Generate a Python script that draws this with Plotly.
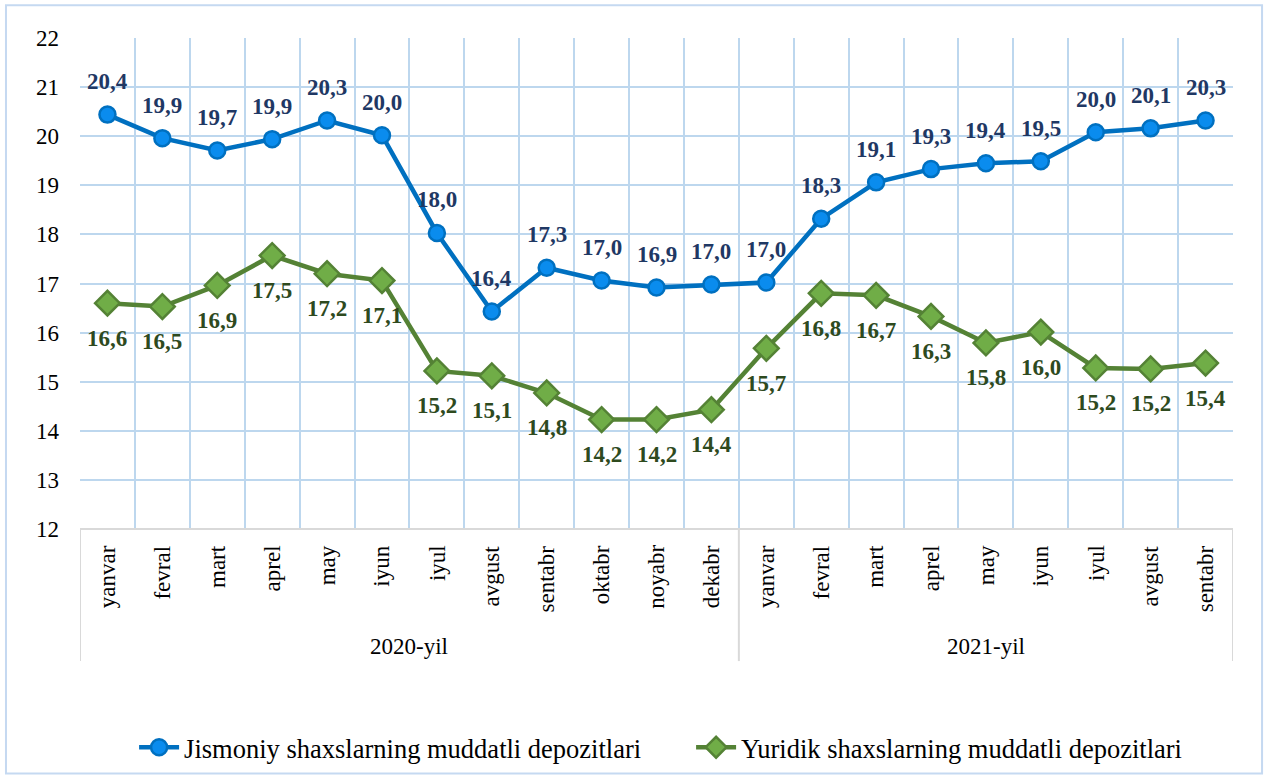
import plotly.graph_objects as go

months = ["yanvar", "fevral", "mart", "aprel", "may", "iyun", "iyul", "avgust",
          "sentabr", "oktabr", "noyabr", "dekabr",
          "yanvar", "fevral", "mart", "aprel", "may", "iyun", "iyul", "avgust", "sentabr"]
years = ["2020-yil", "2021-yil"]
year_counts = [12, 9]

jismoniy = [20.44, 19.96, 19.71, 19.94, 20.32, 20.02, 18.03, 16.43, 17.32, 17.06, 16.92, 16.98,
            17.02, 18.32, 19.06, 19.33, 19.45, 19.49, 20.08, 20.16, 20.32]
jismoniy_labels = ["20,4", "19,9", "19,7", "19,9", "20,3", "20,0", "18,0", "16,4", "17,3", "17,0", "16,9", "17,0",
                   "17,0", "18,3", "19,1", "19,3", "19,4", "19,5", "20,0", "20,1", "20,3"]
yuridik = [16.60, 16.53, 16.96, 17.57, 17.20, 17.06, 15.22, 15.12, 14.77, 14.23, 14.23, 14.43,
           15.68, 16.80, 16.76, 16.33, 15.79, 16.01, 15.28, 15.26, 15.38]
yuridik_labels = ["16,6", "16,5", "16,9", "17,5", "17,2", "17,1", "15,2", "15,1", "14,8", "14,2", "14,2", "14,4",
                  "15,7", "16,8", "16,7", "16,3", "15,8", "16,0", "15,2", "15,2", "15,4"]
series_names = ["Jismoniy shaxslarning muddatli depozitlari", "Yuridik shaxslarning muddatli depozitlari"]

FONT = "'Liberation Serif', 'Times New Roman', Times, serif"
GRID = "#BDD7EE"
AXIS = "#D9D9D9"

x = list(range(len(months)))

fig = go.Figure()
fig.add_trace(go.Scatter(
    x=x, y=jismoniy, mode="lines+markers", name=series_names[0],
    line=dict(color="#0070C0", width=4.5),
    marker=dict(symbol="circle", size=16, color="#0A8CEE", line=dict(color="#0070C0", width=2.5)),
))
fig.add_trace(go.Scatter(
    x=x, y=yuridik, mode="lines+markers", name=series_names[1],
    line=dict(color="#548235", width=4.5),
    marker=dict(symbol="diamond", size=19, color="#70AD47", line=dict(color="#548235", width=2.5)),
))

annotations = []
for i, (v, t) in enumerate(zip(jismoniy, jismoniy_labels)):
    annotations.append(dict(x=i, y=v, xref="x", yref="y", text="<b>" + t + "</b>", showarrow=False,
                            yshift=33, font=dict(family=FONT, size=23, color="#1F3864")))
for i, (v, t) in enumerate(zip(yuridik, yuridik_labels)):
    annotations.append(dict(x=i, y=v, xref="x", yref="y", text="<b>" + t + "</b>", showarrow=False,
                            yshift=-35, font=dict(family=FONT, size=23, color="#2E4A1E")))
for i, m in enumerate(months):
    annotations.append(dict(x=i, y=-0.029, xref="x", yref="paper", text=m, showarrow=False,
                            textangle=-90, xanchor="center", yanchor="top",
                            font=dict(family=FONT, size=23, color="#000000")))

shapes = []
start = 0
for yname, cnt in zip(years, year_counts):
    end = start + cnt
    annotations.append(dict(x=(start - 0.5 + end - 0.5) / 2, y=-0.239, xref="x", yref="paper",
                            text=yname, showarrow=False, xanchor="center", yanchor="middle",
                            font=dict(family=FONT, size=23, color="#000000")))
    shapes.append(dict(type="line", xref="x", yref="paper", x0=start - 0.5, x1=start - 0.5,
                       y0=0, y1=-0.269, line=dict(color=AXIS, width=2)))
    start = end
shapes.append(dict(type="line", xref="x", yref="paper", x0=start - 0.5, x1=start - 0.5,
                   y0=0, y1=-0.269, line=dict(color=AXIS, width=2)))
shapes.append(dict(type="line", xref="x", yref="paper", x0=-0.5, x1=start - 0.5,
                   y0=0, y1=0, line=dict(color=AXIS, width=2)))
# outer chart border
shapes.append(dict(type="rect", xref="paper", yref="paper", x0=-0.0642, x1=1.0252,
                   y0=-0.498, y1=1.0668, line=dict(color="#C5D9F1", width=2), layer="below"))

fig.update_layout(
    width=1268, height=783,
    margin=dict(l=80, r=35, t=38, b=251),
    paper_bgcolor="white", plot_bgcolor="white",
    font=dict(family=FONT, size=22, color="#000000"),
    showlegend=True,
    legend=dict(orientation="h", x=0.530, xanchor="center", y=-0.445, yanchor="middle",
                font=dict(family=FONT, size=26.5, color="#000000"),
                itemwidth=40, tracegroupgap=0, entrywidth=502, entrywidthmode="pixels"),
    xaxis=dict(range=[-0.5, len(months) - 0.5], tick0=-0.5, dtick=1, showticklabels=False,
               showgrid=True, gridcolor=GRID, gridwidth=2, zeroline=False, showline=False, ticks=""),
    yaxis=dict(range=[12, 22], dtick=1, showgrid=True, gridcolor=GRID, gridwidth=2,
               zeroline=False, showline=False, ticks="", ticklabelstandoff=20,
               tickfont=dict(family=FONT, size=23, color="#000000")),
    annotations=annotations,
    shapes=shapes,
)

fig.write_html("out.html", config={"displayModeBar": False},
               post_script="document.body.style.margin='0px';")
